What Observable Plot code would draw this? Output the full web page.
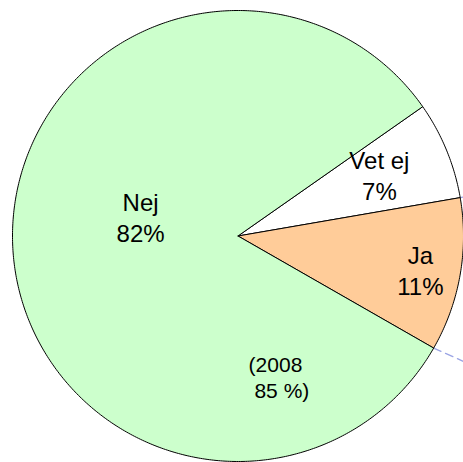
<!DOCTYPE html>
<html>
<head>
<meta charset="utf-8">
<script src="https://cdn.jsdelivr.net/npm/d3@7"></script>
<script src="https://cdn.jsdelivr.net/npm/@observablehq/plot@0.6"></script>
<style>
  html, body { margin: 0; padding: 0; background: #fff; }
  #chart { width: 463px; height: 462px; overflow: hidden; }
</style>
</head>
<body>
<div id="chart"></div>
<script>
// ---- data ----
const categories = ["Vet ej", "Ja", "Nej"];
const values = [7, 11, 82];
const percentLabels = ["7%", "11%", "82%"];
const noteText = "(2008\n\u00a085 %)";

// ---- styles / layout (not data) ----
const sliceColors = ["#ffffff", "#ffcc99", "#ccffcc"];
const startDeg = 55;                      // clockwise from 12 o'clock
const labelPos = [[0.627, 0.273], [0.809, -0.149], [-0.432, 0.086]]; // unit-circle coords
const notePos = [0.047, -0.625];

const pie = d3.pie().sort(null).value(d => d).startAngle(startDeg * Math.PI / 180)
  .endAngle((startDeg + 360) * Math.PI / 180);
const arcs = pie(values);

const slicePts = [];
arcs.forEach((a, i) => {
  const n = Math.max(8, Math.ceil((a.endAngle - a.startAngle) / 0.01));
  slicePts.push({k: categories[i], x: 0, y: 0});
  for (let j = 0; j <= n; j++) {
    const t = a.startAngle + (a.endAngle - a.startAngle) * j / n;
    slicePts.push({k: categories[i], x: Math.sin(t), y: Math.cos(t)});
  }
  slicePts.push({k: categories[i], x: 0, y: 0});
});

const labels = categories.map((c, i) => ({
  text: c + "\n" + percentLabels[i], x: labelPos[i][0], y: labelPos[i][1]
}));

// dashed leader lines from the Ja slice edges (outward)
const leaders = [];
[arcs[1].endAngle, arcs[1].startAngle].forEach((t, i) => {
  const sx = Math.sin(t), sy = Math.cos(t);
  const dir = t + (i === 0 ? -0.1 : 0.0);
  leaders.push({g: i, x: sx, y: sy});
  leaders.push({g: i, x: sx + 0.16 * Math.sin(dir), y: sy + 0.16 * Math.cos(dir)});
});

const chart = Plot.plot({
  width: 463,
  height: 462,
  margin: 0,
  x: {domain: [-1, 1], range: [12, 463], axis: null},
  y: {domain: [-1, 1], range: [461, 10], axis: null},
  color: {domain: categories, range: sliceColors},
  style: {fontFamily: "Liberation Sans, Arial, Helvetica, sans-serif", background: "#fff", overflow: "hidden"},
  marks: [
    Plot.line(leaders, {x: "x", y: "y", z: "g", stroke: "#9aa4e4", strokeWidth: 1.3, strokeDasharray: "8,5"}),
    Plot.line(slicePts, {x: "x", y: "y", z: "k", fill: "k", stroke: "#000", strokeWidth: 1, curve: "linear"}),
    Plot.text(labels, {x: "x", y: "y", text: "text", fontSize: 24, lineHeight: 1.3, fill: "#000", textAnchor: "middle"}),
    Plot.text([noteText], {x: () => notePos[0], y: () => notePos[1], text: d => d, fontSize: 21, lineHeight: 1.25, fill: "#000", textAnchor: "start"})
  ]
});
document.getElementById("chart").appendChild(chart);
</script>
</body>
</html>
